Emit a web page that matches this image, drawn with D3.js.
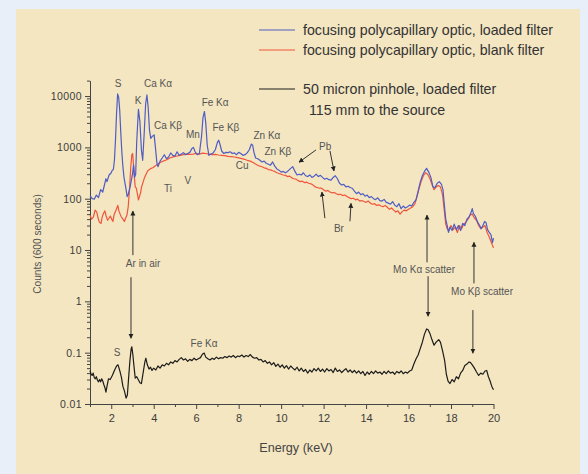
<!DOCTYPE html>
<html><head><meta charset="utf-8">
<script src="https://cdn.jsdelivr.net/npm/d3@7"></script>
<style>
html,body{margin:0;padding:0;background:#e8eff8;}
svg{display:block;font-family:"Liberation Sans",Arial,sans-serif;}
</style></head><body>
<svg id="c" width="588" height="474"></svg>
<script>
// ---------- DATA ----------
const xMajorTicks = [2,4,6,8,10,12,14,16,18,20];
const xMinorTicks = [1,3,5,7,9,11,13,15,17,19];
const yMajorTicks = [0.01,0.1,1,10,100,1000,10000];
const yTickLabels = ["0.01","0.1","1","10","100","1000","10000"];

const seriesNames = ["focusing polycapillary optic, loaded filter","focusing polycapillary optic, blank filter","50 micron pinhole, loaded filter"];
const legendNote = "115 mm to the source";

// blue: focusing optic, loaded filter  [energy keV, counts]
const blueLoaded = [
[1.0,115],[1.1,100],[1.2,98],[1.3,118],[1.4,105],[1.5,150],[1.6,135],[1.7,200],[1.75,245],[1.8,215],[1.9,290],[2.0,320],[2.05,360],[2.1,370],[2.15,560],[2.2,1400],[2.25,4500],[2.3,11000],[2.35,9500],[2.4,5200],[2.45,1900],[2.5,800],[2.55,420],[2.6,260],[2.7,150],[2.75,110],[2.8,120],[2.9,180],[3.0,300],[3.05,450],[3.1,260],[3.15,300],[3.2,1300],[3.28,5500],[3.35,3200],[3.42,900],[3.48,560],[3.55,1800],[3.62,7000],[3.68,10500],[3.74,6000],[3.8,2200],[3.86,1500],[3.94,1650],[4.02,1750],[4.08,1000],[4.15,500],[4.2,420],[4.3,540],[4.4,620],[4.5,720],[4.6,600],[4.7,650],[4.8,780],[4.9,700],[5.0,680],[5.1,820],[5.2,700],[5.3,740],[5.4,790],[5.5,720],[5.6,760],[5.7,800],[5.8,950],[5.87,1000],[5.95,820],[6.05,720],[6.15,760],[6.25,1600],[6.32,3800],[6.39,5000],[6.45,3000],[6.52,1100],[6.6,700],[6.7,740],[6.8,780],[6.9,900],[7.0,1250],[7.06,1380],[7.12,1150],[7.2,850],[7.3,760],[7.4,800],[7.5,790],[7.6,820],[7.7,760],[7.8,780],[7.9,720],[8.0,800],[8.1,760],[8.2,700],[8.3,720],[8.4,780],[8.5,900],[8.6,1160],[8.66,1100],[8.72,800],[8.8,620],[8.9,600],[9.0,560],[9.1,520],[9.2,540],[9.3,490],[9.4,470],[9.5,450],[9.6,520],[9.7,430],[9.8,380],[9.9,360],[10.0,330],[10.1,340],[10.2,320],[10.3,340],[10.45,390],[10.55,420],[10.65,340],[10.75,290],[10.85,300],[10.95,290],[11.05,320],[11.15,280],[11.25,270],[11.35,290],[11.45,260],[11.55,275],[11.65,300],[11.75,270],[11.85,285],[11.95,260],[12.05,240],[12.15,250],[12.25,235],[12.35,230],[12.45,260],[12.55,280],[12.65,245],[12.75,200],[12.85,185],[12.95,190],[13.05,170],[13.15,175],[13.25,165],[13.35,160],[13.45,140],[13.55,125],[13.65,135],[13.75,120],[13.85,125],[13.95,112],[14.05,118],[14.15,105],[14.25,110],[14.35,100],[14.45,96],[14.55,104],[14.65,92],[14.75,90],[14.85,97],[14.95,85],[15.05,82],[15.15,78],[15.25,88],[15.35,75],[15.45,70],[15.55,80],[15.65,64],[15.75,72],[15.85,66],[15.95,70],[16.05,75],[16.15,72],[16.25,85],[16.35,95],[16.45,140],[16.55,210],[16.65,280],[16.75,340],[16.85,390],[16.95,330],[17.05,260],[17.15,170],[17.25,165],[17.35,200],[17.45,215],[17.55,190],[17.62,150],[17.68,80],[17.75,40],[17.82,30],[17.88,22],[17.95,28],[18.05,24],[18.15,32],[18.25,25],[18.35,30],[18.45,24],[18.55,33],[18.65,30],[18.75,40],[18.85,44],[18.95,55],[19.0,64],[19.05,52],[19.15,45],[19.25,35],[19.35,30],[19.42,26],[19.5,30],[19.58,36],[19.65,34],[19.72,25],[19.8,22],[19.88,20],[19.95,14],[20.0,17]
];

// red: focusing optic, blank filter
const redBlank = [
[1.0,47],[1.08,40],[1.16,44],[1.24,60],[1.32,55],[1.38,42],[1.44,35],[1.52,33],[1.58,45],[1.64,52],[1.7,58],[1.76,46],[1.83,38],[1.9,42],[1.96,46],[2.02,40],[2.08,36],[2.14,50],[2.2,56],[2.26,65],[2.31,74],[2.36,58],[2.42,50],[2.48,44],[2.55,40],[2.62,36],[2.68,42],[2.74,48],[2.8,70],[2.86,150],[2.92,420],[2.97,720],[3.01,760],[3.05,450],[3.09,260],[3.13,170],[3.18,160],[3.24,120],[3.28,95],[3.33,110],[3.38,130],[3.43,170],[3.5,210],[3.57,260],[3.64,300],[3.72,350],[3.8,370],[3.88,390],[3.96,400],[4.05,430],[4.15,460],[4.25,490],[4.35,520],[4.45,540],[4.55,560],[4.65,580],[4.75,620],[4.85,640],[4.95,660],[5.1,680],[5.25,700],[5.4,720],[5.55,740],[5.7,730],[5.85,740],[6.0,760],[6.15,740],[6.3,770],[6.45,760],[6.6,740],[6.75,720],[6.9,730],[7.05,710],[7.2,700],[7.35,690],[7.5,670],[7.65,660],[7.8,650],[7.95,630],[8.1,610],[8.25,590],[8.4,560],[8.55,540],[8.7,500],[8.85,460],[9.0,430],[9.1,420],[9.2,400],[9.3,390],[9.4,370],[9.5,365],[9.6,350],[9.7,340],[9.8,320],[9.9,310],[10.0,300],[10.1,290],[10.2,285],[10.3,270],[10.4,275],[10.5,255],[10.6,245],[10.7,240],[10.8,225],[10.9,215],[11.0,220],[11.1,205],[11.2,210],[11.3,200],[11.4,195],[11.5,185],[11.6,170],[11.7,165],[11.8,160],[11.9,160],[12.0,150],[12.1,140],[12.2,145],[12.3,135],[12.4,130],[12.5,132],[12.6,125],[12.7,120],[12.8,122],[12.9,115],[13.0,118],[13.1,110],[13.2,105],[13.3,100],[13.4,102],[13.5,95],[13.6,98],[13.7,90],[13.8,92],[13.9,88],[14.0,85],[14.1,90],[14.2,82],[14.3,78],[14.4,80],[14.5,74],[14.6,76],[14.7,72],[14.8,70],[14.9,74],[15.0,68],[15.1,62],[15.2,66],[15.3,60],[15.4,55],[15.5,58],[15.6,50],[15.7,56],[15.8,60],[15.9,58],[16.0,62],[16.1,66],[16.2,70],[16.3,80],[16.4,110],[16.5,160],[16.6,220],[16.7,280],[16.8,320],[16.9,300],[17.0,250],[17.1,190],[17.2,150],[17.3,170],[17.4,180],[17.5,170],[17.6,120],[17.68,60],[17.75,32],[17.82,26],[17.9,24],[18.0,30],[18.1,25],[18.2,28],[18.3,22],[18.4,30],[18.5,26],[18.6,32],[18.7,35],[18.8,40],[18.9,48],[19.0,50],[19.1,42],[19.2,38],[19.3,30],[19.4,26],[19.5,28],[19.6,30],[19.7,22],[19.8,18],[19.9,14],[20.0,11]
];

// black: 50 micron pinhole, loaded filter
const blackPinhole = [
[1.0,0.045],[1.05,0.038],[1.1,0.036],[1.15,0.040],[1.2,0.033],[1.25,0.031],[1.3,0.034],[1.35,0.029],[1.4,0.027],[1.45,0.030],[1.5,0.027],[1.55,0.031],[1.6,0.028],[1.65,0.024],[1.7,0.021],[1.75,0.017],[1.8,0.022],[1.87,0.031],[1.95,0.030],[2.05,0.036],[2.15,0.045],[2.25,0.055],[2.32,0.058],[2.4,0.045],[2.48,0.033],[2.55,0.022],[2.62,0.018],[2.7,0.013],[2.76,0.015],[2.82,0.033],[2.88,0.07],[2.94,0.12],[2.97,0.13],[3.02,0.09],[3.08,0.05],[3.13,0.032],[3.2,0.034],[3.27,0.030],[3.35,0.026],[3.42,0.025],[3.5,0.040],[3.58,0.065],[3.63,0.078],[3.7,0.058],[3.78,0.048],[3.85,0.052],[3.92,0.045],[4.0,0.050],[4.1,0.046],[4.2,0.055],[4.3,0.050],[4.4,0.058],[4.5,0.055],[4.6,0.062],[4.7,0.058],[4.8,0.066],[4.9,0.062],[5.0,0.070],[5.1,0.066],[5.2,0.074],[5.3,0.080],[5.4,0.072],[5.5,0.076],[5.6,0.068],[5.7,0.074],[5.8,0.070],[5.9,0.078],[6.0,0.072],[6.1,0.076],[6.2,0.080],[6.3,0.094],[6.38,0.098],[6.45,0.082],[6.55,0.076],[6.65,0.072],[6.75,0.078],[6.85,0.074],[6.95,0.082],[7.05,0.076],[7.15,0.080],[7.25,0.078],[7.35,0.084],[7.45,0.080],[7.55,0.086],[7.65,0.082],[7.75,0.088],[7.85,0.080],[7.95,0.086],[8.05,0.084],[8.15,0.090],[8.25,0.082],[8.35,0.088],[8.45,0.084],[8.55,0.092],[8.65,0.082],[8.75,0.078],[8.85,0.080],[8.95,0.072],[9.05,0.074],[9.15,0.066],[9.25,0.070],[9.35,0.062],[9.45,0.066],[9.55,0.058],[9.65,0.064],[9.75,0.054],[9.85,0.060],[9.95,0.052],[10.05,0.058],[10.15,0.050],[10.25,0.056],[10.35,0.048],[10.45,0.055],[10.55,0.050],[10.65,0.046],[10.75,0.052],[10.85,0.044],[10.95,0.050],[11.05,0.043],[11.15,0.047],[11.25,0.040],[11.35,0.046],[11.45,0.042],[11.55,0.049],[11.65,0.044],[11.75,0.050],[11.85,0.043],[11.95,0.048],[12.05,0.042],[12.15,0.049],[12.25,0.044],[12.35,0.047],[12.45,0.041],[12.55,0.050],[12.65,0.043],[12.75,0.046],[12.85,0.041],[12.95,0.045],[13.05,0.049],[13.15,0.042],[13.25,0.046],[13.35,0.041],[13.45,0.045],[13.55,0.040],[13.65,0.044],[13.75,0.039],[13.85,0.043],[13.95,0.036],[14.05,0.042],[14.15,0.038],[14.25,0.043],[14.35,0.039],[14.45,0.044],[14.55,0.040],[14.65,0.042],[14.75,0.038],[14.85,0.043],[14.95,0.039],[15.05,0.044],[15.15,0.040],[15.25,0.042],[15.35,0.038],[15.45,0.043],[15.55,0.040],[15.65,0.044],[15.75,0.039],[15.85,0.042],[15.95,0.040],[16.05,0.044],[16.15,0.046],[16.25,0.060],[16.35,0.075],[16.45,0.090],[16.55,0.120],[16.65,0.160],[16.75,0.230],[16.85,0.29],[16.92,0.28],[17.0,0.24],[17.1,0.18],[17.2,0.14],[17.3,0.16],[17.42,0.18],[17.5,0.16],[17.6,0.11],[17.7,0.07],[17.78,0.038],[17.86,0.028],[17.95,0.025],[18.05,0.030],[18.15,0.027],[18.25,0.034],[18.35,0.031],[18.45,0.040],[18.55,0.045],[18.65,0.056],[18.75,0.060],[18.85,0.066],[18.92,0.064],[19.0,0.058],[19.1,0.050],[19.2,0.042],[19.3,0.036],[19.4,0.040],[19.5,0.038],[19.6,0.044],[19.68,0.045],[19.76,0.034],[19.84,0.028],[19.92,0.022],[20.0,0.019]
];

// peak labels [text, energy keV, log10 counts]
const peakLabels = [
["S",2.32,4.25],["Ca K\u03b1",4.20,4.25],["K",3.26,3.92],["Ca K\u03b2",4.67,3.43],["Mn",5.85,3.26],
["Fe K\u03b1",6.89,3.88],["Fe K\u03b2",7.40,3.38],["Zn K\u03b1",9.33,3.24],["Zn K\u03b2",9.85,2.91],
["Pb",12.07,3.02],["Cu",8.16,2.65],["V",5.61,2.36],["Ti",4.67,2.19],["Br",12.72,1.41],
["Ar in air",3.50,0.74],["Mo K\u03b1 scatter",16.73,0.63],["Mo K\u03b2 scatter",19.46,0.20],
["S",2.27,-0.99],["Fe K\u03b1",6.37,-0.82]
];
// arrows [E from, log from, E to, log to]
const arrows = [
[11.64,2.95,10.84,2.71],[12.30,2.93,12.49,2.54],
[12.06,1.62,11.92,2.13],[13.24,1.56,13.29,1.91],
[3.02,0.90,3.02,1.76],[2.93,0.47,2.93,-0.72],
[16.87,0.76,16.87,1.68],[16.92,0.49,16.92,-0.29],
[19.08,0.35,19.08,1.15],[19.03,-0.17,19.03,-1.01]
];

// ---------- DRAW ----------
const svg = d3.select("#c");
svg.append("rect").attr("x",0).attr("y",0).attr("width",588).attr("height",474).attr("fill","#e8eff8");
svg.append("rect").attr("x",16).attr("y",9).attr("width",564).attr("height",465).attr("fill","#f4e6c1");

const x = d3.scaleLinear().domain([1,20]).range([90,493.5]);
const y = d3.scaleLog().domain([0.01,20000]).range([404,80.6]);

const defs = svg.append("defs");
defs.append("marker").attr("id","ah").attr("viewBox","0 0 10 10").attr("refX",9).attr("refY",5)
  .attr("markerWidth",5).attr("markerHeight",7).attr("orient","auto").attr("markerUnits","userSpaceOnUse")
  .append("path").attr("d","M0,0L10,5L0,10Z").attr("fill","#222");

// axes
const axColor = "#444";
const gy = svg.append("g").attr("transform","translate(90,0)");
gy.call(d3.axisLeft(y).tickValues(yMajorTicks).tickFormat((d,i)=>yTickLabels[i]).tickSize(5).tickSizeOuter(0).tickPadding(3));
const yMinor = [];
for (let k=-2;k<=4;k++) for (let m=2;m<=9;m++){const v=m*Math.pow(10,k); if(v<=20000) yMinor.push(v);}
gy.append("g").call(d3.axisLeft(y).tickValues(yMinor).tickFormat("").tickSize(3).tickSizeOuter(0)).select(".domain").remove();
gy.selectAll("path,line").attr("stroke",axColor);
gy.selectAll("text").attr("fill","#3c3c3c").style("font-size","10.5px").style("letter-spacing","0.4px");

const gx = svg.append("g").attr("transform","translate(0,404)");
gx.call(d3.axisBottom(x).tickValues(xMajorTicks).tickFormat(d3.format("d")).tickSize(5).tickSizeOuter(0).tickPadding(5));
gx.append("g").call(d3.axisBottom(x).tickValues(xMinorTicks).tickFormat("").tickSize(3).tickSizeOuter(0)).select(".domain").remove();
gx.selectAll("path,line").attr("stroke",axColor);
gx.selectAll("text").attr("fill","#3c3c3c").style("font-size","11px");

svg.append("text").attr("x",296).attr("y",452).attr("text-anchor","middle").attr("fill","#444")
  .style("font-size","12.6px").text("Energy (keV)");
svg.append("text").attr("transform","translate(41,244) rotate(-90)").attr("text-anchor","middle").attr("fill","#555")
  .style("font-size","10.2px").text("Counts (600 seconds)");

// series
const line = d3.line().x(d=>x(d[0])).y(d=>y(d[1]));
const series = [
 {data:redBlank,color:"#f0553c"},
 {data:blueLoaded,color:"#4f5cc4"},
 {data:blackPinhole,color:"#1c1c1c"}
];
series.forEach(s=>{
  svg.append("path").datum(s.data).attr("d",line).attr("fill","none")
    .attr("stroke",s.color).attr("stroke-width",1.2).attr("stroke-linejoin","round");
});

// annotations
arrows.forEach(a=>{
  svg.append("line").attr("x1",x(a[0])).attr("y1",y(Math.pow(10,a[1])))
    .attr("x2",x(a[2])).attr("y2",y(Math.pow(10,a[3])))
    .attr("stroke","#333").attr("stroke-width",1).attr("marker-end","url(#ah)");
});
peakLabels.forEach(p=>{
  svg.append("text").attr("x",x(p[1])).attr("y",y(Math.pow(10,p[2])))
    .attr("dy","0.35em").attr("text-anchor","middle").attr("fill","#555")
    .style("font-size","10px").text(p[0]);
});

// legend
const legColors = ["#4f5cc4","#f0553c","#1c1c1c"];
const legY = [30,50,89];
seriesNames.forEach((n,i)=>{
  svg.append("line").attr("x1",259).attr("x2",295).attr("y1",legY[i]).attr("y2",legY[i])
    .attr("stroke",legColors[i]).attr("stroke-width",1.2);
  svg.append("text").attr("x",303).attr("y",legY[i]).attr("dy","0.35em").attr("fill","#333")
    .style("font-size","14.2px").text(n);
});
svg.append("text").attr("x",309).attr("y",110).attr("dy","0.35em").attr("fill","#333")
  .style("font-size","14.2px").text(legendNote);
</script>
</body></html>
